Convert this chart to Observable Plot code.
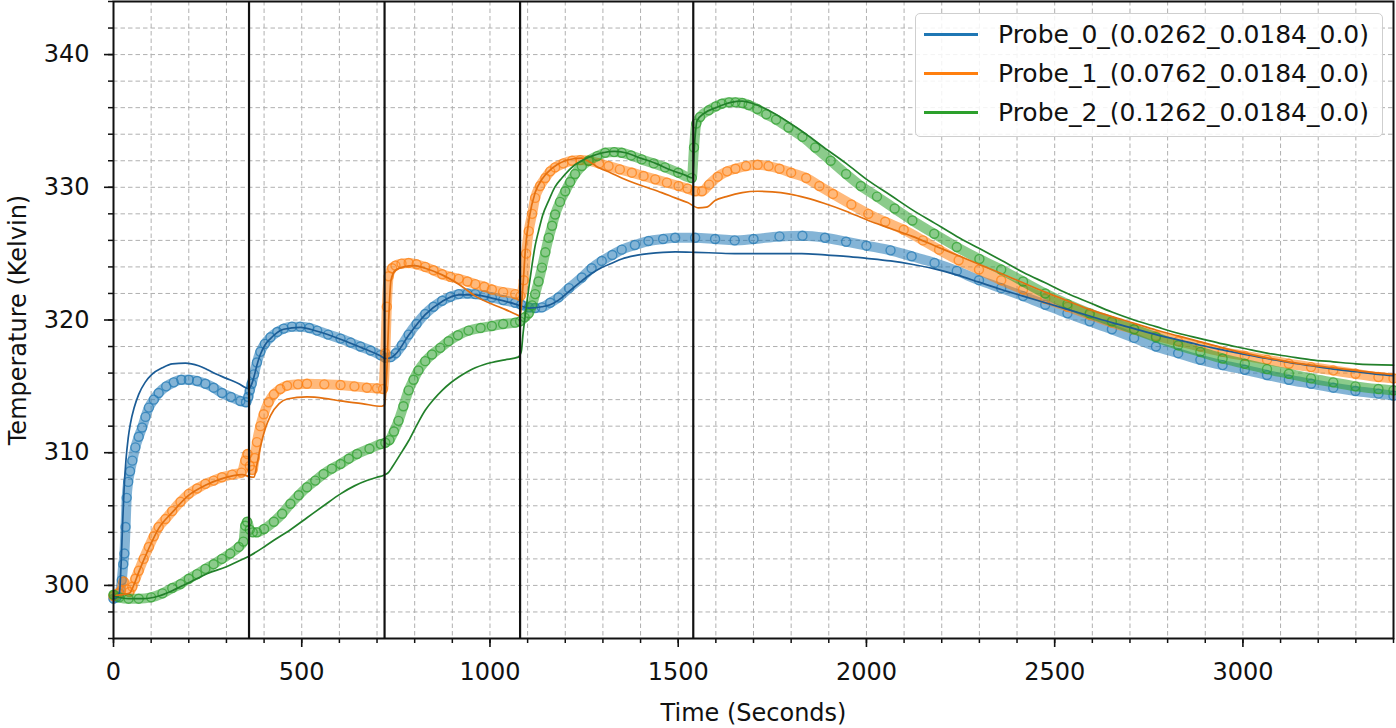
<!DOCTYPE html>
<html><head><meta charset="utf-8">
<script src="https://cdn.jsdelivr.net/npm/d3@7"></script>
<script src="https://cdn.jsdelivr.net/npm/@observablehq/plot@0.6"></script>
<style>
body{margin:0;background:#fff;}
#wrap{position:relative;width:1396px;height:728px;font-family:"DejaVu Sans",sans-serif;}
#legend{position:absolute;left:915px;top:13px;width:468px;height:124px;box-sizing:border-box;border:1.5px solid #cfcfcf;border-radius:5px;background:rgba(255,255,255,0.85);padding-top:1px;}
.row{display:flex;align-items:center;height:39px;}
.sw{width:54px;height:2.5px;margin-left:8px;margin-right:20px;}
.lab{font-size:25px;color:#111;white-space:nowrap;line-height:1;}
</style></head><body><div id="wrap"></div>
<script>
const probeLabels = ["Probe_0_(0.0262_0.0184_0.0)", "Probe_1_(0.0762_0.0184_0.0)", "Probe_2_(0.1262_0.0184_0.0)"];
const probeColors = ["#1f77b4", "#ff7f0e", "#2ca02c"];
const simColors = ["#1b5c96", "#e4700f", "#22802a"];
const stepTimes = [360, 720, 1080, 1540];
const xMajorTicks = [0, 500, 1000, 1500, 2000, 2500, 3000];
const xMinorTicks = d3.range(0, 3401, 100);
const yMajorTicks = [300, 310, 320, 330, 340];
const yMinorTicks = d3.range(296, 345, 2);

// [time s, temperature K] — markers (measured)
const probe0Measured = [[0,299.0],[8,299.1],[16,299.4],[22,300.4],[26,301.6],[29,302.4],[32,304.4],[35,306.6],[39,307.8],[44,308.6],[50,309.4],[58,310.4],[67,311.2],[76,311.9],[85,312.7],[94,313.4],[107,314.0],[120,314.5],[140,315.0],[160,315.3],[180,315.5],[200,315.5],[222,315.4],[244,315.2],[266,314.9],[288,314.5],[312,314.2],[337,313.9],[352,313.8],[358,314.2],[362,314.7],[367,315.2],[373,315.9],[381,316.8],[390,317.6],[402,318.2],[417,318.7],[435,319.1],[452,319.35],[474,319.5],[496,319.5],[520,319.4],[541,319.2],[570,318.9],[603,318.6],[630,318.3],[656,318.0],[683,317.7],[709,317.35],[722,317.15],[736,317.2],[750,317.5],[766,318.1],[784,318.9],[805,319.7],[828,320.45],[850,321.0],[873,321.45],[895,321.75],[917,321.95],[940,322.0],[961,321.95],[985,321.85],[1005,321.7],[1035,321.5],[1067,321.3],[1083,321.15],[1103,320.95],[1120,320.9],[1138,320.95],[1160,321.3],[1182,321.7],[1210,322.4],[1244,323.2],[1270,323.9],[1297,324.45],[1325,324.9],[1350,325.3],[1385,325.65],[1421,325.95],[1460,326.1],[1492,326.2],[1545,326.2],[1598,326.1],[1650,326.0],[1700,326.1],[1769,326.3],[1830,326.35],[1890,326.2],[1946,325.9],[2000,325.6],[2064,325.25],[2120,324.8],[2181,324.3],[2240,323.7],[2299,323.0],[2358,322.4],[2416,321.8],[2475,321.15],[2534,320.5],[2593,319.9],[2652,319.3],[2711,318.65],[2769,318.0],[2828,317.5],[2887,317.0],[2946,316.6],[3005,316.25],[3064,315.85],[3122,315.5],[3181,315.2],[3240,314.9],[3299,314.65],[3360,314.45],[3400,314.3]];
const probe1Measured = [[0,299.2],[12,299.4],[20,299.6],[27,300.3],[35,299.7],[42,299.5],[50,299.9],[58,300.5],[67,301.1],[80,302.0],[94,302.9],[107,303.7],[120,304.4],[138,305.0],[156,305.6],[178,306.3],[200,306.9],[222,307.3],[244,307.65],[266,307.9],[288,308.15],[315,308.35],[340,308.5],[350,309.4],[356,309.9],[362,309.0],[369,308.7],[375,309.6],[381,310.8],[390,312.0],[399,312.9],[412,313.8],[426,314.4],[443,314.8],[461,315.05],[490,315.15],[514,315.2],[560,315.15],[603,315.1],[640,315.0],[673,314.9],[700,314.85],[716,314.8],[722,317.5],[726,321.0],[731,323.3],[740,323.9],[749,324.1],[765,324.25],[784,324.3],[805,324.2],[828,324.0],[850,323.75],[873,323.45],[895,323.25],[917,323.1],[940,322.9],[961,322.7],[985,322.5],[1005,322.3],[1035,322.1],[1067,321.95],[1081,321.8],[1090,323.0],[1096,325.0],[1103,326.7],[1112,328.0],[1120,329.2],[1133,330.1],[1147,330.7],[1160,331.2],[1173,331.5],[1195,331.8],[1218,332.0],[1240,332.05],[1262,332.0],[1290,331.8],[1315,331.6],[1345,331.35],[1377,331.1],[1408,330.85],[1439,330.6],[1470,330.35],[1501,330.1],[1525,329.9],[1545,329.7],[1563,329.7],[1582,330.2],[1605,330.8],[1630,331.2],[1652,331.4],[1680,331.6],[1711,331.7],[1740,331.6],[1769,331.4],[1800,331.1],[1840,330.7],[1875,330.1],[1911,329.5],[1960,328.7],[2005,328.0],[2050,327.4],[2099,326.8],[2150,326.0],[2193,325.3],[2245,324.5],[2299,323.8],[2358,323.0],[2416,322.3],[2475,321.6],[2534,321.0],[2593,320.4],[2652,319.8],[2711,319.3],[2769,318.8],[2828,318.4],[2887,318.0],[2946,317.6],[3005,317.3],[3064,317.0],[3122,316.7],[3181,316.45],[3240,316.2],[3299,315.95],[3360,315.7],[3400,315.6]];
const probe2Measured = [[0,299.3],[15,299.1],[40,299.0],[67,299.0],[100,299.1],[130,299.4],[156,299.8],[178,300.1],[200,300.5],[222,300.85],[244,301.25],[266,301.6],[288,302.0],[310,302.4],[333,302.9],[345,303.3],[350,304.5],[355,304.8],[362,304.2],[370,304.0],[381,304.0],[400,304.25],[426,304.8],[448,305.4],[470,306.15],[492,306.8],[514,307.4],[536,307.9],[558,308.4],[580,308.8],[603,309.15],[625,309.55],[647,309.9],[680,310.3],[710,310.65],[722,310.75],[733,310.95],[745,311.6],[757,312.4],[770,313.5],[784,314.7],[797,315.5],[810,316.2],[828,316.9],[846,317.4],[868,317.9],[890,318.4],[915,318.85],[943,319.2],[975,319.4],[1005,319.55],[1035,319.7],[1067,319.8],[1080,319.9],[1092,320.2],[1103,320.5],[1112,321.1],[1120,321.95],[1129,322.9],[1138,323.95],[1147,325.1],[1156,326.2],[1165,327.1],[1173,327.95],[1186,328.9],[1200,329.7],[1213,330.4],[1226,331.0],[1244,331.6],[1262,332.0],[1285,332.35],[1306,332.6],[1330,332.65],[1350,332.6],[1375,332.4],[1403,332.1],[1435,331.8],[1465,331.5],[1500,331.1],[1536,330.7],[1542,333.0],[1548,334.8],[1558,335.3],[1581,335.8],[1600,336.1],[1616,336.3],[1635,336.4],[1652,336.4],[1670,336.35],[1687,336.2],[1710,335.9],[1734,335.5],[1760,335.1],[1793,334.5],[1830,333.8],[1864,333.0],[1905,332.0],[1946,331.0],[1985,330.1],[2028,329.3],[2075,328.4],[2122,327.5],[2180,326.5],[2240,325.5],[2300,324.6],[2358,323.8],[2416,322.9],[2475,322.0],[2534,321.2],[2593,320.5],[2652,319.9],[2711,319.3],[2769,318.7],[2828,318.1],[2887,317.6],[2946,317.1],[3005,316.7],[3064,316.3],[3122,315.95],[3181,315.6],[3240,315.3],[3299,315.0],[3360,314.8],[3400,314.7]];

// [time s, temperature K] — thin lines (simulated)
const probe0Sim = [[0,299.0],[10,299.1],[16,299.5],[20,301.5],[24,304.5],[28,307.2],[33,309.4],[39,311.1],[45,312.2],[55,313.4],[67,314.4],[84,315.3],[102,315.9],[130,316.4],[156,316.7],[191,316.75],[226,316.55],[250,316.25],[271,315.95],[300,315.6],[333,315.2],[358,314.85],[366,315.1],[373,315.7],[381,316.6],[390,317.4],[402,318.1],[417,318.6],[452,319.3],[496,319.45],[541,319.15],[603,318.55],[656,317.95],[709,317.3],[722,317.1],[736,317.15],[750,317.45],[784,318.85],[828,320.4],[873,321.4],[917,321.9],[961,321.9],[1005,321.65],[1067,321.2],[1083,321.05],[1103,320.9],[1138,321.0],[1160,321.15],[1182,321.5],[1210,322.15],[1244,322.95],[1270,323.5],[1297,323.95],[1325,324.3],[1350,324.6],[1385,324.85],[1421,325.0],[1460,325.1],[1492,325.13],[1545,325.1],[1598,325.05],[1650,325.0],[1700,325.0],[1770,325.0],[1828,325.0],[1890,324.9],[1946,324.8],[2000,324.65],[2064,324.45],[2120,324.2],[2181,323.85],[2240,323.4],[2299,322.85],[2358,322.3],[2416,321.8],[2475,321.3],[2534,320.8],[2593,320.3],[2652,319.8],[2711,319.35],[2769,318.9],[2828,318.5],[2887,318.1],[2946,317.75],[3005,317.4],[3064,317.1],[3122,316.8],[3181,316.55],[3240,316.3],[3300,316.1],[3360,315.9],[3400,315.8]];
const probe1Sim = [[0,299.2],[20,299.3],[42,299.4],[55,300.1],[67,301.0],[94,302.8],[120,304.3],[156,305.5],[200,306.8],[244,307.55],[288,308.05],[342,308.35],[360,308.2],[373,308.15],[381,309.1],[390,310.4],[403,311.8],[417,312.8],[440,313.7],[461,314.05],[514,314.2],[560,314.1],[603,313.9],[660,313.7],[712,313.5],[720,313.6],[726,316.2],[731,320.0],[737,323.0],[749,323.75],[770,324.0],[800,324.1],[828,323.9],[873,323.4],[917,322.7],[961,321.8],[1005,321.2],[1040,320.8],[1067,320.45],[1080,320.3],[1087,322.3],[1094,325.3],[1105,327.8],[1120,329.6],[1138,330.6],[1156,331.2],[1178,331.7],[1200,332.0],[1222,332.15],[1244,332.2],[1265,331.9],[1288,331.5],[1320,331.1],[1350,330.7],[1385,330.3],[1421,329.95],[1456,329.6],[1492,329.2],[1525,328.85],[1554,328.45],[1575,328.5],[1598,329.0],[1628,329.3],[1670,329.6],[1711,329.7],[1750,329.65],[1793,329.5],[1840,329.2],[1887,328.8],[1946,328.2],[2005,327.5],[2064,326.9],[2122,326.3],[2181,325.6],[2240,324.9],[2299,324.2],[2358,323.5],[2416,322.8],[2475,322.1],[2534,321.45],[2593,320.8],[2652,320.25],[2711,319.75],[2769,319.25],[2828,318.8],[2887,318.35],[2946,317.9],[3005,317.5],[3064,317.15],[3122,316.85],[3181,316.6],[3240,316.4],[3300,316.2],[3360,316.0],[3400,315.9]];
const probe2Sim = [[0,299.2],[40,299.0],[80,299.0],[120,299.2],[156,299.6],[200,300.2],[250,300.9],[300,301.4],[330,301.8],[360,302.2],[400,302.9],[426,303.4],[470,304.2],[514,305.1],[558,306.0],[603,306.9],[640,307.5],[673,307.9],[700,308.15],[718,308.3],[730,308.5],[740,308.9],[760,309.8],[784,310.9],[806,312.1],[828,313.2],[850,314.0],[873,314.7],[895,315.25],[917,315.7],[940,316.1],[961,316.4],[985,316.65],[1005,316.8],[1040,317.0],[1075,317.2],[1083,317.6],[1088,319.0],[1094,320.4],[1103,322.4],[1112,324.2],[1120,325.6],[1129,326.7],[1140,327.9],[1156,329.0],[1172,330.0],[1191,330.7],[1210,331.3],[1226,331.7],[1250,332.1],[1270,332.35],[1300,332.6],[1330,332.7],[1360,332.6],[1400,332.2],[1440,331.8],[1480,331.3],[1520,330.9],[1538,330.7],[1544,333.5],[1550,335.0],[1570,335.6],[1600,336.0],[1640,336.4],[1670,336.5],[1700,336.3],[1740,335.8],[1793,334.9],[1840,334.0],[1887,333.0],[1946,331.8],[2005,330.5],[2064,329.4],[2122,328.3],[2181,327.3],[2240,326.3],[2299,325.4],[2358,324.5],[2416,323.6],[2475,322.8],[2534,322.0],[2593,321.3],[2652,320.6],[2711,320.0],[2769,319.5],[2828,319.0],[2887,318.6],[2946,318.2],[3005,317.85],[3064,317.5],[3122,317.25],[3181,317.0],[3240,316.85],[3300,316.7],[3400,316.6]];

const measured = [probe0Measured, probe1Measured, probe2Measured];
const simulated = [probe0Sim, probe1Sim, probe2Sim];

const gridStyle = {stroke: "#b0b0b0", strokeOpacity: 1, strokeWidth: 1, strokeDasharray: "4.5,3"};

const bandMarks = measured.flatMap((s, i) => [
  Plot.line(s, {x: d => d[0], y: d => d[1], stroke: probeColors[i], strokeWidth: 10, strokeOpacity: 0.55, curve: "monotone-x"}),
  Plot.dot(s, {x: d => d[0], y: d => d[1], r: 4.5, fill: "none", stroke: probeColors[i], strokeWidth: 1.4, strokeOpacity: 0.7})
]);
const simMarks = simulated.map((s, i) =>
  Plot.line(s, {x: d => d[0], y: d => d[1], stroke: simColors[i], strokeWidth: 1.7, curve: "monotone-x"})
);

const chart = Plot.plot({
  width: 1396,
  height: 728,
  marginLeft: 113,
  marginRight: 3,
  marginTop: 1,
  marginBottom: 90,
  style: {fontFamily: "DejaVu Sans", background: "white", color: "#111", overflow: "visible"},
  x: {domain: [0, 3400]},
  y: {domain: [296, 344]},
  marks: [
    Plot.gridX(xMinorTicks, gridStyle),
    Plot.gridY(yMinorTicks, gridStyle),
    ...bandMarks,
    ...simMarks,
    Plot.ruleX(stepTimes, {stroke: "#111", strokeWidth: 2.2}),
    Plot.frame({stroke: "#111", strokeWidth: 2}),
    Plot.axisX(xMinorTicks, {tickSize: 5, tickFormat: () => "", strokeWidth: 1.5, label: null}),
    Plot.axisY(yMinorTicks, {tickSize: 5, tickFormat: () => "", strokeWidth: 1.5, label: null}),
    Plot.axisX(xMajorTicks, {tickSize: 9, tickPadding: 15, fontSize: 24, strokeWidth: 1.6, tickFormat: d => String(d), label: "Time (Seconds)", labelAnchor: "center", labelArrow: "none", labelOffset: 82}),
    Plot.axisY(yMajorTicks, {tickSize: 9, tickPadding: 15, fontSize: 24, strokeWidth: 1.6, tickFormat: d => String(d), label: "Temperature (Kelvin)", labelAnchor: "center", labelArrow: "none", labelOffset: 105})
  ]
});

const wrap = document.getElementById("wrap");
wrap.appendChild(chart);

const legend = document.createElement("div");
legend.id = "legend";
probeLabels.forEach((lab, i) => {
  const row = document.createElement("div");
  row.className = "row";
  const sw = document.createElement("div");
  sw.className = "sw";
  sw.style.background = probeColors[i];
  const tx = document.createElement("div");
  tx.className = "lab";
  tx.textContent = lab;
  row.appendChild(sw);
  row.appendChild(tx);
  legend.appendChild(row);
});
wrap.appendChild(legend);
</script>
</body></html>
